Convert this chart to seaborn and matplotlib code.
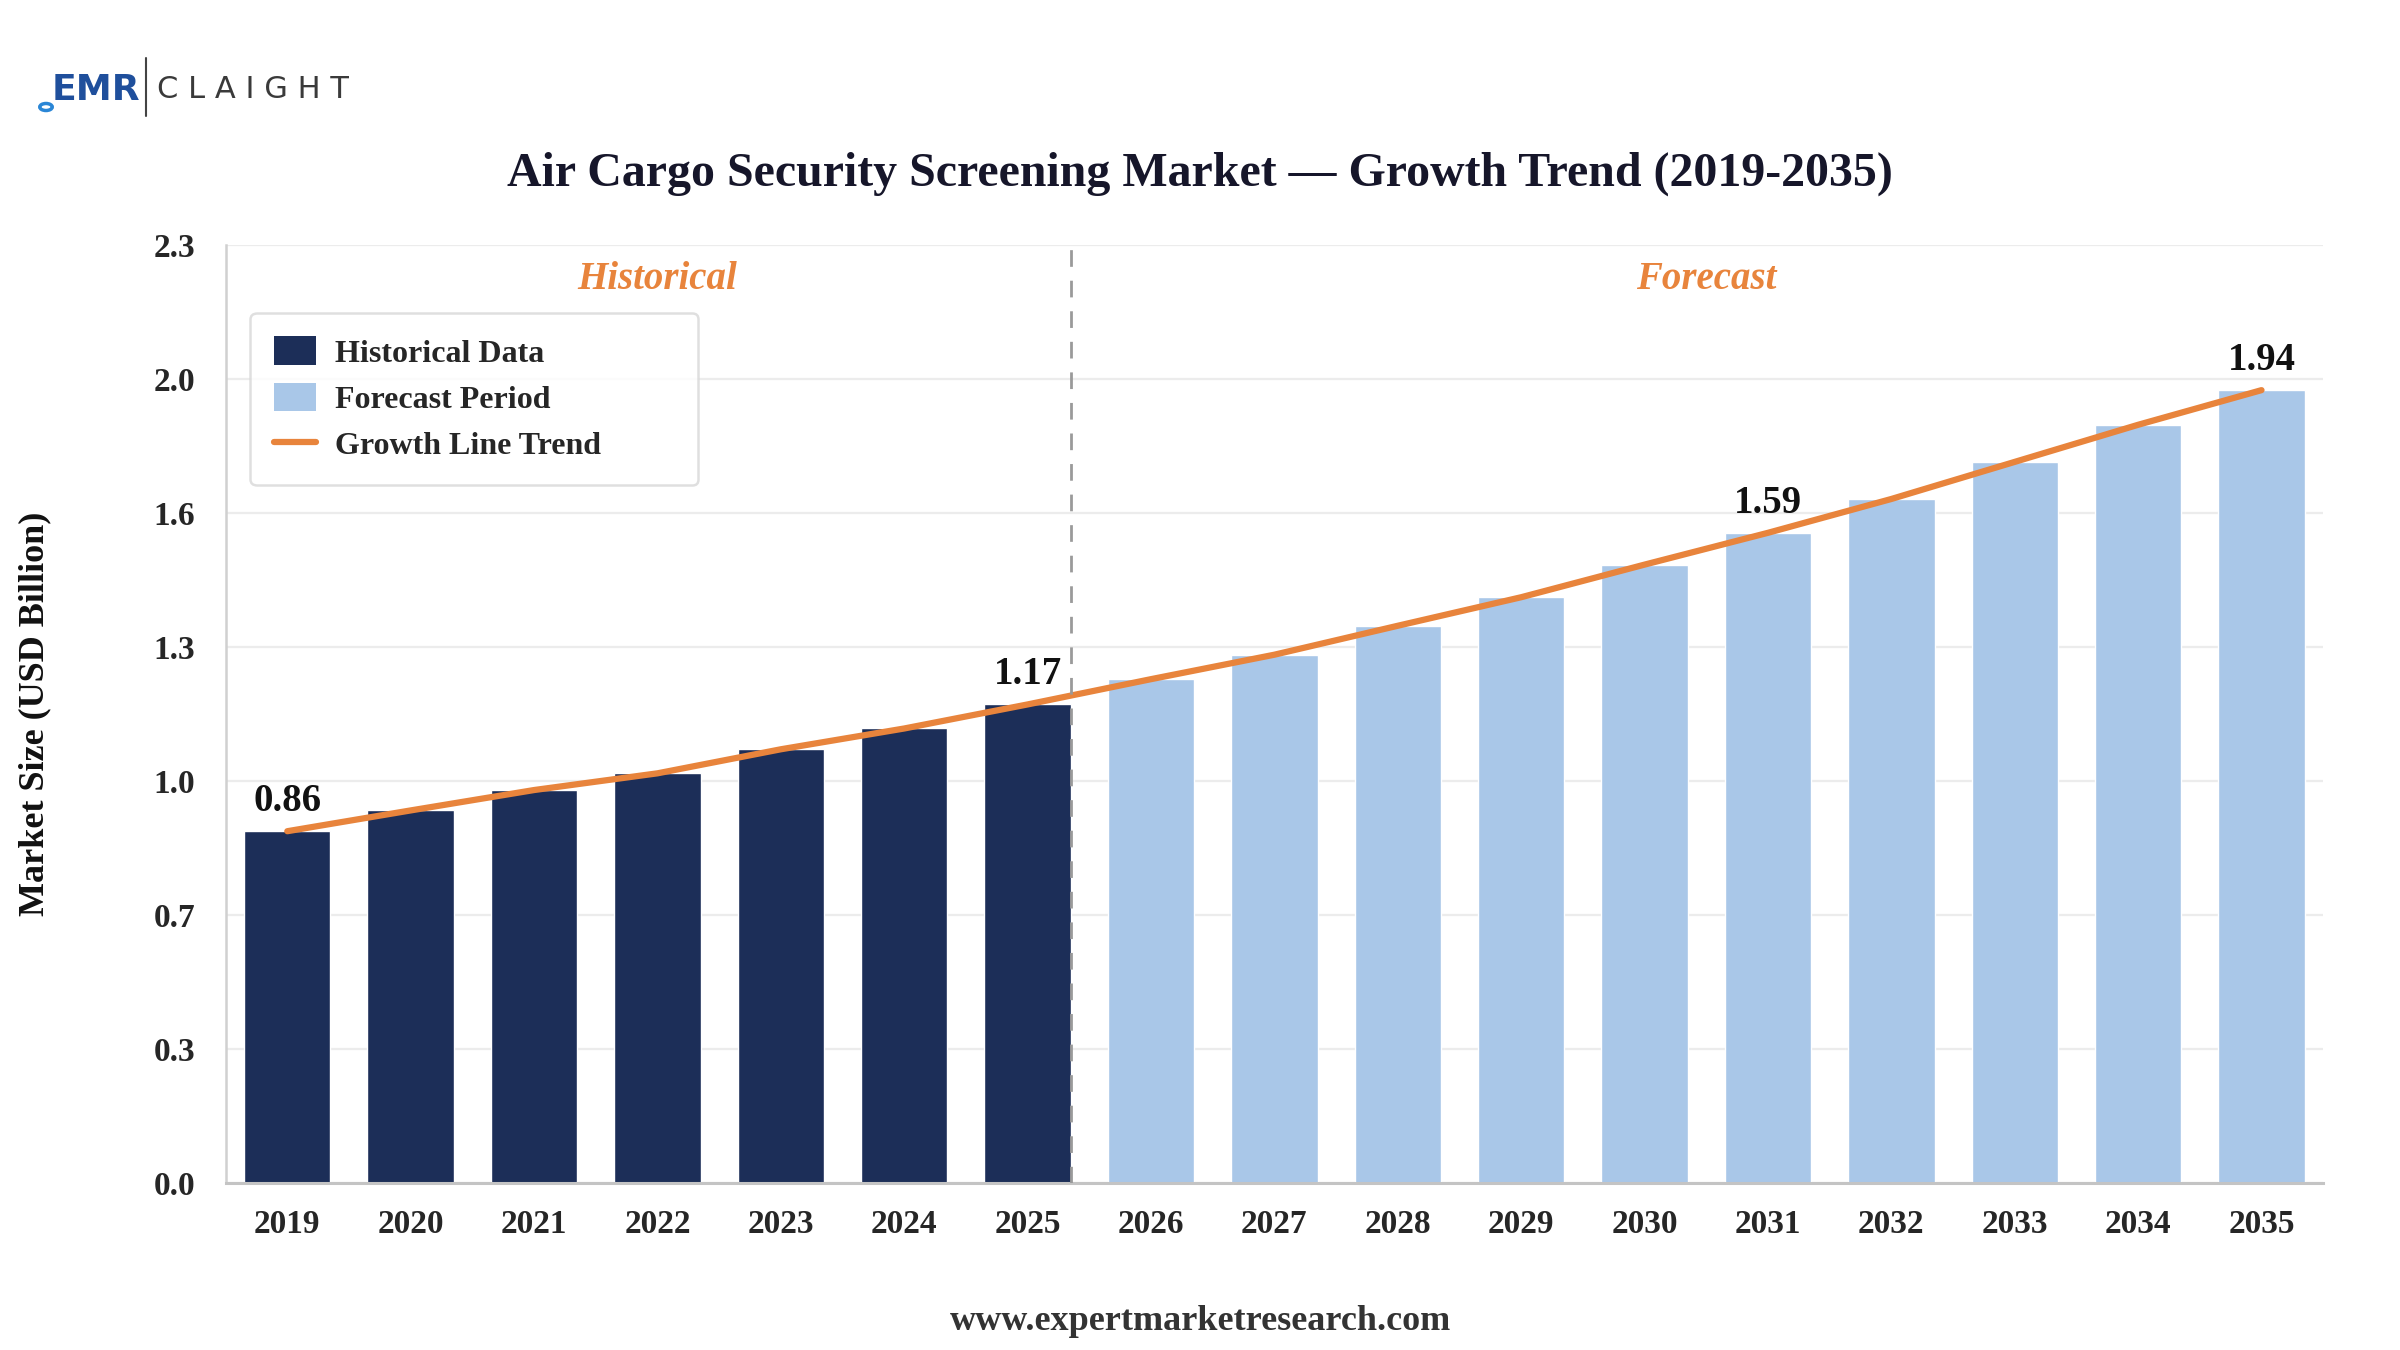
import numpy as np
import pandas as pd
import matplotlib
matplotlib.use("Agg")
import matplotlib.pyplot as plt
import seaborn as sns
from matplotlib.patches import Patch, Circle
from matplotlib.lines import Line2D

# ---- data ----
years = [str(y) for y in range(2019, 2036)]
values = [0.862, 0.913, 0.963, 1.004, 1.063, 1.114, 1.173,
          1.235, 1.295, 1.366, 1.436, 1.516, 1.594,
          1.677, 1.768, 1.859, 1.944]
periods = ["Historical"] * 7 + ["Forecast"] * 10
label_years = ["2019", "2025", "2031", "2035"]

title = "Air Cargo Security Screening Market \u2014 Growth Trend (2019-2035)"
ylabel = "Market Size (USD Billion)"
source = "www.expertmarketresearch.com"

NAVY = "#1c2e58"
LIGHT = "#a9c7e8"
ORANGE = "#e8843c"

df = pd.DataFrame({"Year": years, "Value": values, "Period": periods})
df["pos"] = np.arange(len(df))

sns.set_theme(style="white")
plt.rcParams["font.family"] = ["Liberation Serif", "DejaVu Serif"]
plt.rcParams["font.weight"] = "bold"

fig = plt.figure(figsize=(24, 13.5), dpi=100)
ax = fig.add_axes([0.094, 0.124, 0.874, 0.6945])

sns.barplot(data=df, x="Year", y="Value", hue="Period",
            palette={"Historical": NAVY, "Forecast": LIGHT},
            dodge=False, width=0.7, legend=False, ax=ax, zorder=2,
            saturation=1)
sns.lineplot(data=df, x="pos", y="Value", color=ORANGE, linewidth=4.5,
             ax=ax, zorder=3, legend=False)

ax.set_xlim(-0.5, len(years) - 0.5)
ax.set_ylim(0, 2.3)
yt = np.linspace(0, 2.3, 8)
ax.set_yticks(yt)
ax.set_yticklabels([f"{v:.1f}" for v in yt], fontsize=24, fontweight="bold")
ax.set_xticks(range(len(years)))
ax.set_xticklabels(years, fontsize=24, fontweight="bold")
ax.tick_params(axis="x", pad=19, length=0)
ax.tick_params(axis="y", pad=22, length=0)
ax.set_xlabel("")
ax.set_ylabel("")
ax.yaxis.grid(True, color="#ececec", linewidth=1.6, zorder=0)
ax.set_axisbelow(True)
for s in ["top", "right"]:
    ax.spines[s].set_visible(False)
ax.spines["left"].set_color("#d0d0d0")
ax.spines["left"].set_linewidth(1.8)
ax.spines["bottom"].set_color("#c4c4c4")
ax.spines["bottom"].set_linewidth(2.2)

# divider
ax.axvline(6.35, color="#9a9a9a", linestyle=(0, (6, 5)), linewidth=2, zorder=4)

# section labels
ax.text(3, 2.215, "Historical", ha="center", va="center", fontsize=28,
        fontweight="bold", fontstyle="italic", color=ORANGE)
ax.text(11.5, 2.215, "Forecast", ha="center", va="center", fontsize=28,
        fontweight="bold", fontstyle="italic", color=ORANGE)

# value labels
for _, r in df.iterrows():
    if r["Year"] in label_years:
        ax.annotate(f"{r['Value']:.2f}", (r["pos"], r["Value"]),
                    xytext=(0, 8), textcoords="offset points",
                    ha="center", va="bottom", fontsize=28,
                    fontweight="bold", color="#111111")

# legend
handles = [Patch(facecolor=NAVY, edgecolor="none", label="Historical Data"),
           Patch(facecolor=LIGHT, edgecolor="none", label="Forecast Period"),
           Line2D([0], [0], color=ORANGE, linewidth=4.5, label="Growth Line Trend")]
leg = ax.legend(handles=handles, loc="upper left",
                bbox_to_anchor=(0.0117, 0.744, 0.2137, 0.184), mode="expand",
                borderaxespad=0, frameon=True, fancybox=True,
                prop={"family": "Liberation Serif", "weight": "bold", "size": 23},
                handlelength=1.3, handleheight=1.0, handletextpad=0.6,
                labelspacing=0.44, borderpad=0.75)
leg.get_frame().set_edgecolor("#d8d8d8")
leg.get_frame().set_linewidth(1.8)

# titles and texts
fig.text(0.5, 1 - 174 / 1350, title, ha="center", va="center", fontsize=34.5,
         fontweight="bold", color="#16162a")
fig.text(0.0145, 0.124 + 0.6945 / 2, ylabel, rotation=90, ha="center",
         va="center", fontsize=26, fontweight="bold", color="#111111")
fig.text(0.5, 1 - 1322 / 1350, source, ha="center", va="center", fontsize=26,
         fontweight="bold", color="#333333")

# logo
fig.text(52 / 2400, 1 - 90 / 1350, "EMR", ha="left", va="center", fontsize=26,
         fontweight="bold", color="#1f4f9c", family=["DejaVu Sans"])
fig.patches.append(Circle((46 / 2400, 1 - 107 / 1350), 0.0026,
                          transform=fig.transFigure, facecolor="white",
                          edgecolor="#2a86d6", linewidth=2.5))
fig.add_artist(Line2D([146 / 2400, 146 / 2400], [1 - 58 / 1350, 1 - 116 / 1350],
                      transform=fig.transFigure, color="#444444", linewidth=1.5))
fig.text(157 / 2400, 1 - 90 / 1350, "C L A I G H T", ha="left", va="center",
         fontsize=22, fontweight="normal", color="#3a3a3a",
         family=["DejaVu Sans"])

fig.savefig("out.png", dpi=100, facecolor="white")
